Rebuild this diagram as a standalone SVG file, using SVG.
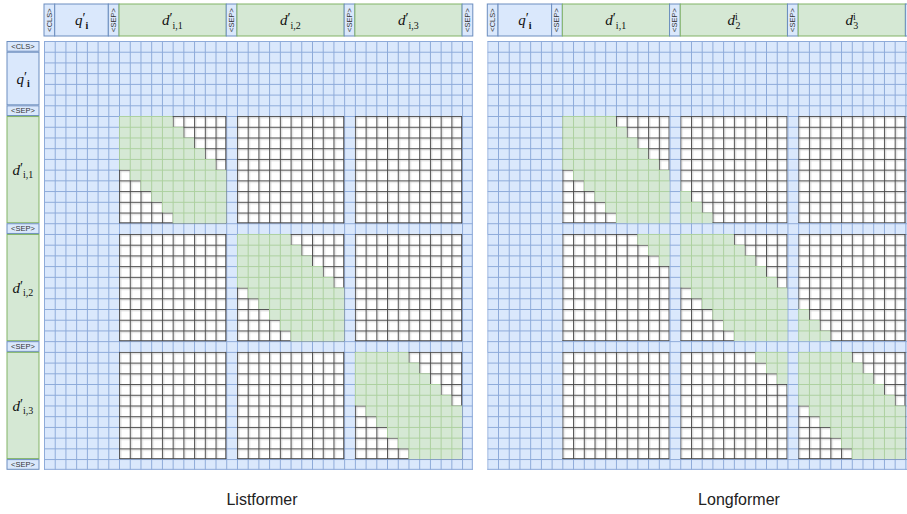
<svg xmlns="http://www.w3.org/2000/svg" xmlns:xlink="http://www.w3.org/1999/xlink" width="907" height="514" viewBox="0 0 907 514">
<style>
.hb{fill:#dae8fc;stroke:#6c8ebf;stroke-width:1}
.hg{fill:#d5e8d4;stroke:#82b366;stroke-width:1}
.tok{font-family:"Liberation Sans",Arial,sans-serif;font-size:7.5px;fill:#333;text-anchor:middle;dominant-baseline:central}
.m{font-family:"Liberation Serif","Times New Roman",serif;font-size:15px;fill:#111}
.it{font-style:italic}
.pr{font-size:14px}
.sb{font-size:10px}
.bd{font-size:10px;font-weight:bold}
.cap{font-family:"Liberation Sans",Arial,sans-serif;font-size:16px;fill:#222;text-anchor:middle}
</style>
<defs>
<pattern id="pB" patternUnits="userSpaceOnUse" width="1" height="1">
<rect width="1" height="1" fill="#dae8fc"/>
<rect width="1" height="0.09" fill="#8ca9d9"/>
<rect width="0.09" height="1" fill="#8ca9d9"/>
</pattern>
<pattern id="pW" patternUnits="userSpaceOnUse" width="1" height="1">
<rect width="1" height="1" fill="#fff"/>
<rect y="0.12" width="1" height="0.09" fill="#d2d2d2"/>
<rect x="0.12" width="0.09" height="1" fill="#d2d2d2"/>
<rect width="1" height="0.085" fill="#474747"/>
<rect width="0.085" height="1" fill="#474747"/>
</pattern>
<pattern id="pG" patternUnits="userSpaceOnUse" width="1" height="1">
<rect width="1" height="1" fill="#d5e8d4"/>
<rect width="1" height="0.09" fill="#acd09e"/>
<rect width="0.09" height="1" fill="#acd09e"/>
</pattern>
<g id="base">
<rect x="0" y="0" width="40" height="40" fill="url(#pB)"/>
<rect x="7" y="7" width="10" height="10" fill="url(#pW)"/>
<rect x="18" y="7" width="10" height="10" fill="url(#pW)"/>
<rect x="29" y="7" width="10" height="10" fill="url(#pW)"/>
<rect x="7" y="18" width="10" height="10" fill="url(#pW)"/>
<rect x="18" y="18" width="10" height="10" fill="url(#pW)"/>
<rect x="29" y="18" width="10" height="10" fill="url(#pW)"/>
<rect x="7" y="29" width="10" height="10" fill="url(#pW)"/>
<rect x="18" y="29" width="10" height="10" fill="url(#pW)"/>
<rect x="29" y="29" width="10" height="10" fill="url(#pW)"/>
<path d="M16.955 7V17M16.955 18V28M16.955 29V39M27.955 7V17M27.955 18V28M27.955 29V39M38.955 7V17M38.955 18V28M38.955 29V39M7 16.955H17M18 16.955H28M29 16.955H39M7 27.955H17M18 27.955H28M29 27.955H39M7 38.955H17M18 38.955H28M29 38.955H39" stroke="#474747" stroke-width="0.085" fill="none"/>
</g>
<path id="band10" d="M0,0H5V1H6V2H7V3H8V4H9V5H10V10H5V9H4V8H3V7H2V6H1V5H0Z"/>
</defs>

<g id="listformer-grid" transform="translate(44,41) scale(10.72)">
<use xlink:href="#base"/>
<use xlink:href="#band10" transform="translate(7,7)" fill="url(#pG)"/>
<use xlink:href="#band10" transform="translate(18,18)" fill="url(#pG)"/>
<use xlink:href="#band10" transform="translate(29,29)" fill="url(#pG)"/>
<path d="M39.955 0V40M0 39.955H40" stroke="#8ca9d9" stroke-width="0.09" fill="none"/>
</g>

<g id="longformer-grid" transform="translate(487.3,41) scale(10.72)">
<use xlink:href="#base"/>
<path fill="url(#pG)" d="M7,7H12V8H13V9H14V10H15V11H16V12H17V13H18V14H19V15H20V16H21V17H22V18H23V19H24V20H25V21H26V22H27V23H28V24H29V25H30V26H31V27H32V28H33V29H34V30H35V31H36V32H37V33H38V34H39V39H34V38H33V37H32V36H31V35H30V34H29V33H28V32H27V31H26V30H25V29H24V28H23V27H22V26H21V25H20V24H19V23H18V22H17V21H16V20H15V19H14V18H13V17H12V16H11V15H10V14H9V13H8V12H7Z"/>
<rect x="0" y="17" width="40" height="1" fill="url(#pB)"/>
<rect x="0" y="28" width="40" height="1" fill="url(#pB)"/>
<rect x="17" y="0" width="1" height="40" fill="url(#pB)"/>
<rect x="28" y="0" width="1" height="40" fill="url(#pB)"/>
<path d="M39.955 0V40M0 39.955H40" stroke="#8ca9d9" stroke-width="0.09" fill="none"/>
</g>

<g id="connectors"/>

<!-- Listformer header -->
<g id="L-h-cls"><rect class="hb" x="44" y="4" width="10.72" height="32"/><text class="tok" transform="translate(49.36,20) rotate(-90)">&lt;CLS&gt;</text></g>
<g id="L-h-q"><rect class="hb" x="54.72" y="4" width="53.6" height="32"/><text class="m" x="75" y="25"><tspan class="it">q</tspan><tspan class="pr" dy="-2">′</tspan><tspan class="bd" dy="5.5">i</tspan></text></g>
<g id="L-h-sep1"><rect class="hb" x="108.32" y="4" width="10.72" height="32"/><text class="tok" transform="translate(113.68,20) rotate(-90)">&lt;SEP&gt;</text></g>
<g id="L-h-d1"><rect class="hg" x="119.04" y="4" width="107.2" height="32"/><text class="m" x="162" y="25"><tspan class="it">d</tspan><tspan class="pr" dy="-2">′</tspan><tspan class="sb" dy="5.5">i,1</tspan></text></g>
<g id="L-h-sep2"><rect class="hb" x="226.24" y="4" width="10.72" height="32"/><text class="tok" transform="translate(231.6,20) rotate(-90)">&lt;SEP&gt;</text></g>
<g id="L-h-d2"><rect class="hg" x="236.96" y="4" width="107.2" height="32"/><text class="m" x="280" y="25"><tspan class="it">d</tspan><tspan class="pr" dy="-2">′</tspan><tspan class="sb" dy="5.5">i,2</tspan></text></g>
<g id="L-h-sep3"><rect class="hb" x="344.16" y="4" width="10.72" height="32"/><text class="tok" transform="translate(349.52,20) rotate(-90)">&lt;SEP&gt;</text></g>
<g id="L-h-d3"><rect class="hg" x="354.88" y="4" width="107.2" height="32"/><text class="m" x="398" y="25"><tspan class="it">d</tspan><tspan class="pr" dy="-2">′</tspan><tspan class="sb" dy="5.5">i,3</tspan></text></g>
<g id="L-h-sep4"><rect class="hb" x="462.08" y="4" width="10.72" height="32"/><text class="tok" transform="translate(467.44,20) rotate(-90)">&lt;SEP&gt;</text></g>

<!-- Listformer row labels -->
<g id="L-r-cls"><rect class="hb" x="7" y="41.5" width="32" height="9.72"/><text class="tok" x="23" y="46.36">&lt;CLS&gt;</text></g>
<g id="L-r-q"><rect class="hb" x="7" y="52.22" width="32" height="52.6"/><text class="m" x="16.5" y="83.5"><tspan class="it">q</tspan><tspan class="pr" dy="-2">′</tspan><tspan class="bd" dy="5.5">i</tspan></text></g>
<g id="L-r-sep1"><rect class="hb" x="7" y="105.82" width="32" height="9.72"/><text class="tok" x="23" y="110.68">&lt;SEP&gt;</text></g>
<g id="L-r-d1"><rect class="hg" x="7" y="116.54" width="32" height="106.2"/><text class="m" x="12.4" y="174.6"><tspan class="it">d</tspan><tspan class="pr" dy="-2">′</tspan><tspan class="sb" dy="5.5">i,1</tspan></text></g>
<g id="L-r-sep2"><rect class="hb" x="7" y="223.74" width="32" height="9.72"/><text class="tok" x="23" y="228.6">&lt;SEP&gt;</text></g>
<g id="L-r-d2"><rect class="hg" x="7" y="234.46" width="32" height="106.2"/><text class="m" x="12.4" y="292.5"><tspan class="it">d</tspan><tspan class="pr" dy="-2">′</tspan><tspan class="sb" dy="5.5">i,2</tspan></text></g>
<g id="L-r-sep3"><rect class="hb" x="7" y="341.66" width="32" height="9.72"/><text class="tok" x="23" y="346.52">&lt;SEP&gt;</text></g>
<g id="L-r-d3"><rect class="hg" x="7" y="352.38" width="32" height="106.2"/><text class="m" x="12.4" y="410.5"><tspan class="it">d</tspan><tspan class="pr" dy="-2">′</tspan><tspan class="sb" dy="5.5">i,3</tspan></text></g>
<g id="L-r-sep4"><rect class="hb" x="7" y="459.58" width="32" height="9.72"/><text class="tok" x="23" y="464.44">&lt;SEP&gt;</text></g>

<!-- Longformer header -->
<g id="R-h-cls"><rect class="hb" x="487.3" y="4" width="10.72" height="32"/><text class="tok" transform="translate(492.66,20) rotate(-90)">&lt;CLS&gt;</text></g>
<g id="R-h-q"><rect class="hb" x="498.02" y="4" width="53.6" height="32"/><text class="m" x="518.3" y="25"><tspan class="it">q</tspan><tspan class="pr" dy="-2">′</tspan><tspan class="bd" dy="5.5">i</tspan></text></g>
<g id="R-h-sep1"><rect class="hb" x="551.62" y="4" width="10.72" height="32"/><text class="tok" transform="translate(556.98,20) rotate(-90)">&lt;SEP&gt;</text></g>
<g id="R-h-d1"><rect class="hg" x="562.34" y="4" width="107.2" height="32"/><text class="m" x="605.3" y="25"><tspan class="it">d</tspan><tspan class="pr" dy="-2">′</tspan><tspan class="sb" dy="5.5">i,1</tspan></text></g>
<g id="R-h-sep2"><rect class="hb" x="669.54" y="4" width="10.72" height="32"/><text class="tok" transform="translate(674.9,20) rotate(-90)">&lt;SEP&gt;</text></g>
<g id="R-h-d2"><rect class="hg" x="680.26" y="4" width="107.2" height="32"/><text class="m" x="727.6" y="25"><tspan class="it">d</tspan><tspan class="sb" font-size="8" dy="-5">i</tspan><tspan class="sb" dx="-2.5" dy="8.5">2</tspan></text></g>
<g id="R-h-sep3"><rect class="hb" x="787.46" y="4" width="10.72" height="32"/><text class="tok" transform="translate(792.82,20) rotate(-90)">&lt;SEP&gt;</text></g>
<g id="R-h-d3"><rect class="hg" x="798.18" y="4" width="107.2" height="32"/><text class="m" x="845.5" y="25"><tspan class="it">d</tspan><tspan class="sb" font-size="8" dy="-5">i</tspan><tspan class="sb" dx="-2.5" dy="8.5">3</tspan></text></g>
<g id="R-h-sep4"><rect class="hb" x="905.38" y="4" width="10.72" height="32"/><text class="tok" transform="translate(910.74,20) rotate(-90)">&lt;SEP&gt;</text></g>

<g id="cap-listformer"><text class="cap" x="262" y="505">Listformer</text></g>
<g id="cap-longformer"><text class="cap" x="739" y="505">Longformer</text></g>
</svg>
